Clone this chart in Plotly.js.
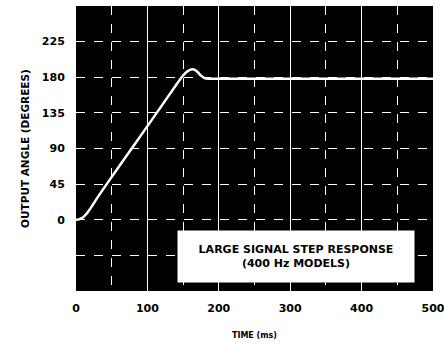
<!DOCTYPE html>
<html>
<head>
<meta charset="utf-8">
<script src="https://cdn.plot.ly/plotly-3.0.1.min.js"></script>
<style>
  html, body { margin: 0; padding: 0; background: #fff; }
  #chart { width: 444px; height: 345px; }
</style>
</head>
<body>
<div id="chart"></div>
<script>
// Step response: output angle (degrees) against time (ms)
const timeMs = [0, 4, 8, 12, 16, 20, 30, 43, 78, 113, 140, 148, 154, 159, 163, 167, 171, 175, 180, 185, 190, 200, 250, 300, 400, 500];
const angleDeg = [0, 0.5, 2, 5, 9, 14, 28, 45, 90, 135, 170, 180, 186, 189, 190, 189, 186, 182, 179, 178, 178, 178, 178, 178, 178, 178];

const xTicks = [0, 100, 200, 300, 400, 500];
const yTicks = [-45, 0, 45, 90, 135, 180, 225];
const yTickText = ['', '0', '45', '90', '135', '180', '225'];

const boldFont = { family: 'DejaVu Sans, Liberation Sans, sans-serif', color: '#000', weight: 'bold' };

const trace = {
  x: timeMs,
  y: angleDeg,
  mode: 'lines',
  line: { color: '#fff', width: 2.5, shape: 'spline', smoothing: 0.6 },
  hoverinfo: 'skip'
};

const layout = {
  width: 444,
  height: 345,
  margin: { l: 76, r: 11, t: 6, b: 54 },
  paper_bgcolor: '#fff',
  plot_bgcolor: '#000',
  showlegend: false,
  font: Object.assign({ size: 11 }, boldFont),
  xaxis: {
    range: [0, 500],
    tickvals: xTicks,
    ticktext: xTicks.map(String),
    ticks: 'outside',
    ticklen: 7,
    tickcolor: 'rgba(0,0,0,0)',
    tickfont: Object.assign({ size: 11 }, boldFont),
    ticklabeloverflow: 'allow',
    showgrid: true,
    gridcolor: '#fff',
    gridwidth: 1,
    minor: { dtick: 50, tick0: 0, showgrid: true, gridcolor: '#fff', gridwidth: 1, griddash: 'dash' },
    zeroline: false,
    showline: false,
    title: { text: 'TIME (ms)', font: Object.assign({ size: 8 }, boldFont), standoff: 18 }
  },
  yaxis: {
    range: [-90, 270],
    tickvals: yTicks,
    ticktext: yTickText,
    ticks: 'outside',
    ticklen: 8,
    tickcolor: 'rgba(0,0,0,0)',
    tickfont: Object.assign({ size: 11 }, boldFont),
    showgrid: true,
    gridcolor: '#fff',
    gridwidth: 1,
    griddash: 'dash',
    zeroline: false,
    showline: false,
    title: { text: 'OUTPUT ANGLE (DEGREES)', font: Object.assign({ size: 10.5 }, boldFont), standoff: 10 }
  },
  annotations: [{
    xref: 'x', yref: 'y',
    x: 308, y: -46,
    xanchor: 'center', yanchor: 'middle',
    text: 'LARGE SIGNAL STEP RESPONSE<br>(400 Hz MODELS)',
    showarrow: false,
    bgcolor: '#fff',
    width: 234,
    height: 49,
    align: 'center',
    font: Object.assign({ size: 11 }, boldFont)
  }]
};

Plotly.newPlot('chart', [trace], layout, { displayModeBar: false, staticPlot: true });
</script>
</body>
</html>
